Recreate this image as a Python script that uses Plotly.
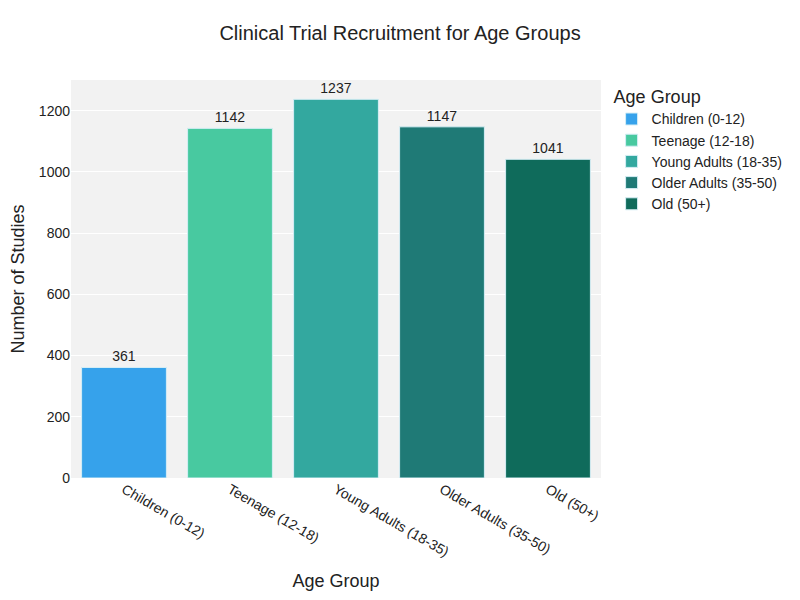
import plotly.graph_objects as go

age_groups = ["Children (0-12)", "Teenage (12-18)", "Young Adults (18-35)", "Older Adults (35-50)", "Old (50+)"]
num_studies = [361, 1142, 1237, 1147, 1041]
colors = ["#36A2EB", "#48C9A0", "#33A89F", "#1F7A76", "#0F6B5B"]

fig = go.Figure()
for g, v, c in zip(age_groups, num_studies, colors):
    fig.add_trace(go.Bar(
        x=[g], y=[v], name=g, marker=dict(color=c, line=dict(color="#D6EEF5", width=1)),
        text=[v], textposition="outside", textfont=dict(size=14, color="#222"),
        cliponaxis=False,
    ))

fig.update_layout(
    width=800, height=600,
    title=dict(text="Clinical Trial Recruitment for Age Groups", x=0.49, xanchor="center",
               y=1 - 25 / 600, yanchor="middle", font=dict(size=20, color="#222")),
    font=dict(family="Liberation Sans, Arial, sans-serif", size=14, color="#222"),
    plot_bgcolor="#F2F2F2", paper_bgcolor="white",
    barmode="relative",
    legend=dict(title=dict(text="Age Group", font=dict(size=18)), font=dict(size=14)),
    xaxis=dict(title=dict(text="Age Group", font=dict(size=18)), tickangle=30, showgrid=False),
    yaxis=dict(title=dict(text="Number of Studies", font=dict(size=18)), gridcolor="white",
               zeroline=False, range=[0, 1300]),
    margin=dict(l=63, r=207, t=72, b=130, autoexpand=False),
)

fig.write_html("out.html")
